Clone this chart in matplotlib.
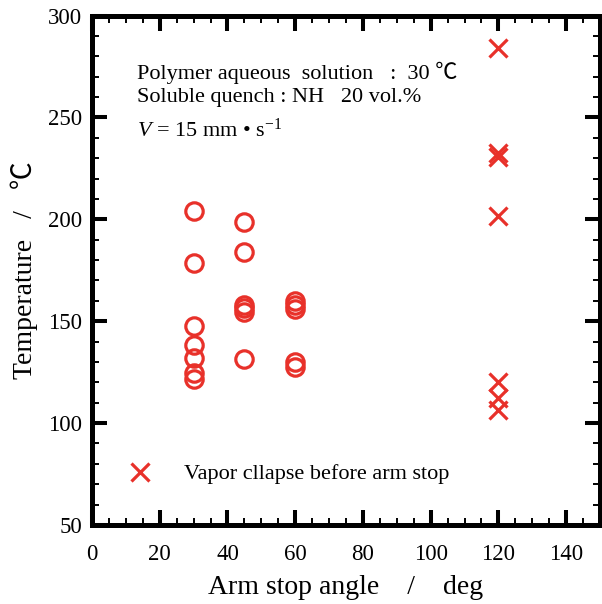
import matplotlib
matplotlib.use('Agg')
import matplotlib.pyplot as plt
from matplotlib.ticker import MultipleLocator

plt.rcParams['font.family'] = ['Liberation Serif', 'Noto Sans CJK JP', 'DejaVu Serif']
plt.rcParams['mathtext.fontset'] = 'custom'
plt.rcParams['mathtext.it'] = 'Liberation Serif:italic'
plt.rcParams['mathtext.rm'] = 'Liberation Serif'

# 蒸気膜崩壊なし（アーム停止後）: ○
angle_ok = [30, 30, 30, 30, 30, 30, 30,
            45, 45, 45, 45, 45, 45,
            60, 60, 60, 60, 60]
temp_ok = [204, 178.5, 147.5, 138.5, 132, 124.5, 121.5,
           198.5, 184, 158, 156.3, 154.5, 131.5,
           159.8, 158, 156, 130, 127.5]

# アーム停止前に蒸気膜崩壊: ×
angle_ng = [120, 120, 120, 120, 120, 120, 120]
temp_ng = [284.2, 232.5, 230.8, 201.5, 120, 112.5, 106.5]

red = '#E8312A'

fig = plt.figure(figsize=(6.02, 6.04), dpi=100)
ax = fig.add_axes([0.1528, 0.1308, 0.8439, 0.8435])

ax.plot(angle_ok, temp_ok, linestyle='none', marker='o', markersize=12.5,
        markerfacecolor='none', markeredgecolor=red, markeredgewidth=2.3)
ax.plot(angle_ng, temp_ng, linestyle='none', marker='x', markersize=13,
        color=red, markeredgewidth=2.3, label='Vapor cllapse before arm stop')

ax.set_xlim(0, 150)
ax.set_ylim(50, 300)
ax.xaxis.set_major_locator(MultipleLocator(20))
ax.xaxis.set_minor_locator(MultipleLocator(5))
ax.yaxis.set_major_locator(MultipleLocator(50))
ax.yaxis.set_minor_locator(MultipleLocator(10))

for s in ax.spines.values():
    s.set_linewidth(3.6)
ax.tick_params(which='both', direction='in', top=True, right=True)
ax.tick_params(which='major', length=11, width=2.9, labelsize=16.5)
ax.tick_params(axis='y', which='major', pad=7)
ax.tick_params(axis='x', which='major', pad=14)
ax.tick_params(which='minor', length=5, width=1.4)

ax.set_xlabel('Arm stop angle    /    deg', fontsize=20, labelpad=7)
ax.set_ylabel('Temperature   /   \u2103', fontsize=20, labelpad=7)

ax.text(0.0886, 0.887, 'Polymer aqueous  solution   :  30 \u2103',
        transform=ax.transAxes, fontsize=16, va='center', ha='left')
ax.text(0.0886, 0.840, 'Soluble quench : NH   20 vol.%',
        transform=ax.transAxes, fontsize=16, va='center', ha='left')
ax.text(0.0886, 0.775, r'$V$ = 15 mm ' + '\u2022' + r' s$^{\mathregular{-1}}$',
        transform=ax.transAxes, fontsize=16, va='center', ha='left')

ax.legend(loc='center left', bbox_to_anchor=(0.073, 0.10), frameon=False,
          fontsize=16, numpoints=1, handlelength=1.0, handletextpad=1.45,
          borderpad=0, borderaxespad=0)

fig.savefig('out.png', dpi=100)
